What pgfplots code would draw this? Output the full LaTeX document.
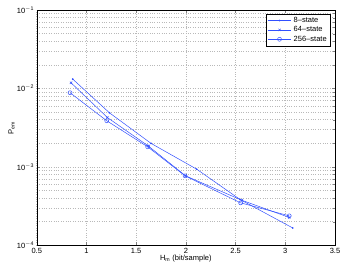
\documentclass[border=0pt]{standalone}
\usepackage{pgfplots}
\pgfplotsset{compat=1.18}
\usepackage{fontspec}
\setmainfont{Liberation Sans}
\definecolor{mblue}{RGB}{50,80,255}
\begin{document}
\fontsize{7.5}{8.5}\selectfont
\begin{tikzpicture}
\begin{axis}[
  scale only axis,
  width=298pt, height=235pt,
  xmin=0.5, xmax=3.5,
  ymode=log, ymin=1e-4, ymax=1e-1,
  xtick={0.5,1,...,3.5},
  xticklabels={0.5,1,1.5,2,2.5,3,3.5},
  ytick={1e-4,1e-3,1e-2,1e-1},
  yticklabels={10\textsuperscript{$-$4},10\textsuperscript{$-$3},10\textsuperscript{$-$2},10\textsuperscript{$-$1}},
  /pgf/number format/assume math mode=true,
  tick label style={font=\fontsize{7.5}{8.5}\selectfont},
  label style={font=\fontsize{7.5}{8.5}\selectfont},
  xmajorgrids, ymajorgrids, yminorgrids,
  major grid style={dash pattern=on 0.6pt off 1.8pt, gray!55, line width=0.5pt},
  minor grid style={dash pattern=on 0.6pt off 1.8pt, gray!55, line width=0.5pt},
  tick align=inside,
  major tick length=3pt, minor tick length=1.5pt,
  axis line style={black, line width=0.4pt},
  xlabel={H\textsubscript{m} (bit/sample)},
  ylabel={P\textsubscript{em}},
  xlabel style={yshift=3pt},
  ylabel style={yshift=-3pt},
  legend style={at={(0.985,0.985)}, anchor=north east, draw=black, line width=0.6pt, font=\fontsize{7.5}{8.5}\selectfont, inner sep=1.5pt, row sep=-1pt},
  legend cell align=left,
  legend image code/.code={\draw[mark repeat=2,mark phase=2,#1] plot coordinates {(0cm,0cm) (0.42cm,0cm) (0.84cm,0cm)};},
]
\addplot[mblue, line width=0.5pt, mark=*, mark size=0.6pt, mark options={solid, fill=mblue}] coordinates {
 (0.862,0.01315) (1.231,0.00489) (1.650,0.00199) (2.109,9.33e-4) (2.545,3.83e-4) (3.075,1.66e-4)};
\addlegendentry{8--state}
\addplot[mblue, line width=0.5pt, mark=x, mark size=1.6pt, mark options={solid}] coordinates {
 (0.845,0.0118) (1.210,0.00426) (1.623,0.00184) (1.998,7.67e-4) (2.562,3.75e-4) (3.040,2.26e-4)};
\addlegendentry{64--state}
\addplot[mblue, line width=0.5pt, mark=o, mark size=2pt, mark options={solid}] coordinates {
 (0.835,0.00881) (1.204,0.00387) (1.616,0.00180) (1.992,7.67e-4) (2.551,3.47e-4) (3.040,2.37e-4)};
\addlegendentry{256--state}
\end{axis}
\pgfresetboundingbox
\path[use as bounding box] (current axis.south west) ++(-36.7pt,-26pt) rectangle ([xshift=9pt,yshift=10pt]current axis.north east);
\end{tikzpicture}
\end{document}
